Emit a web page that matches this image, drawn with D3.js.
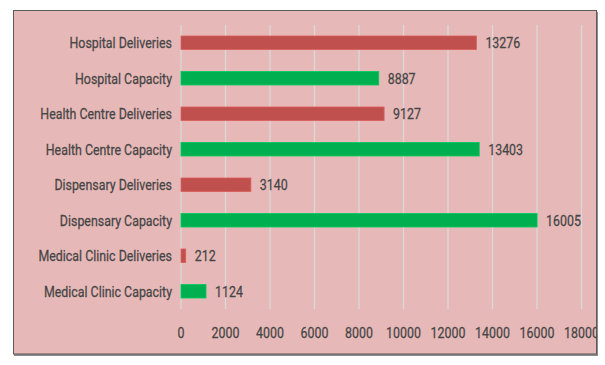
<!DOCTYPE html>
<html><head><meta charset="utf-8">
<script src="https://cdn.jsdelivr.net/npm/d3@7"></script>
<style>body{margin:0;background:#fff}svg{display:block}</style>
</head><body>
<svg id="c" width="605" height="365"></svg>
<script>
const categories = ["Hospital Deliveries","Hospital Capacity","Health Centre Deliveries","Health Centre Capacity","Dispensary Deliveries","Dispensary Capacity","Medical Clinic Deliveries","Medical Clinic Capacity"];
const values = [13276, 8887, 9127, 13403, 3140, 16005, 212, 1124];
const kinds = ["Deliveries","Capacity","Deliveries","Capacity","Deliveries","Capacity","Deliveries","Capacity"];
const ticks = [0,2000,4000,6000,8000,10000,12000,14000,16000,18000];

const colors = {Deliveries:"#c0504d", Capacity:"#00b050"};
const svg = d3.select("#c");
const SX = 0.8, textColor = "#454545", fs = 15.5;

// frame
svg.append("rect").attr("x",14).attr("y",12).attr("width",584).attr("height",344).attr("fill","#8c8c8c");
svg.append("rect").attr("x",13.5).attr("y",10.5).attr("width",583).attr("height",343.5)
  .attr("fill","#e6b8b7").attr("stroke","#5a5a5a").attr("stroke-width",1);
svg.append("clipPath").attr("id","clip").append("rect").attr("x",14).attr("y",11).attr("width",582.5).attr("height",343);

const g = svg.append("g").attr("clip-path","url(#clip)");
const x = d3.scaleLinear().domain([0,18000]).range([181,581.5]);
const y = d3.scaleBand().domain(categories).range([25,309]).paddingInner(0.62).paddingOuter(0.31);

// grid
g.selectAll("line.grid").data(ticks).join("line").attr("class","grid")
  .attr("x1",d=>x(d)).attr("x2",d=>x(d)).attr("y1",25).attr("y2",309)
  .attr("stroke","#d9d9d9").attr("stroke-width",1.3);

// bars
g.selectAll("rect.bar").data(values).join("rect").attr("class","bar")
  .attr("x",x(0)).attr("y",(d,i)=>y(categories[i]))
  .attr("width",d=>x(d)-x(0)).attr("height",y.bandwidth())
  .attr("fill",(d,i)=>colors[kinds[i]])
  .attr("stroke",(d,i)=>d3.color(colors[kinds[i]]).brighter(0.4)).attr("stroke-width",0.8);

function txt(sel){ return sel.attr("font-family","Roboto").attr("font-size",fs).attr("fill",textColor).attr("stroke",textColor).attr("stroke-width",0.25).attr("dominant-baseline","central"); }

// category labels
txt(g.selectAll("text.cat").data(categories).join("text").attr("class","cat"))
  .attr("text-anchor","end")
  .attr("transform",d=>`translate(172,${y(d)+y.bandwidth()/2}) scale(${SX},1)`)
  .text(d=>d);

// value labels
txt(g.selectAll("text.val").data(values).join("text").attr("class","val"))
  .attr("text-anchor","start")
  .attr("transform",(d,i)=>`translate(${x(d)+9},${y(categories[i])+y.bandwidth()/2}) scale(${SX},1)`)
  .text(d=>d);

// x tick labels
txt(g.selectAll("text.tick").data(ticks).join("text").attr("class","tick"))
  .attr("text-anchor","middle")
  .attr("transform",d=>`translate(${x(d)},332) scale(${SX},1)`)
  .text(d=>d);
</script>
</body></html>
